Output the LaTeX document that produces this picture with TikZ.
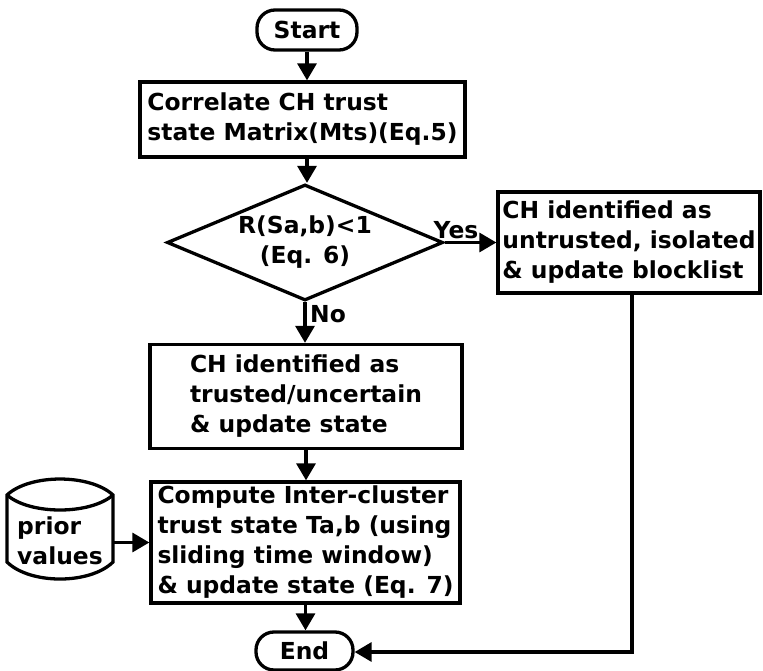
\documentclass[tikz,border=0pt]{standalone}
\usepackage{fontspec}
\setmainfont{DejaVu Sans}
\usetikzlibrary{shapes.geometric,arrows.meta}

\begin{document}
\begin{tikzpicture}[x=1pt,y=-1pt,
  every node/.style={font=\fontsize{23.4}{30}\selectfont\bfseries},
  outline/.style={line width=3.3pt},
  flow/.style={outline, -{Triangle[length=17pt,width=19pt]}},
  proc/.style={draw, outline, rectangle, align=left, inner sep=0pt},
  term/.style={draw, outline, rectangle, rounded corners=18pt, inner sep=0pt},
  decision/.style={draw, outline, diamond, aspect=2.4, inner sep=0pt, align=center},
]
\useasboundingbox (0,0) rectangle (763,671);

% terminals
\node[term, minimum width=100pt, minimum height=40pt] (start) at (307,30) {Start};
\node[term, minimum width=97pt, minimum height=38pt] (end) at (304.5,651) {End};

% process steps
\node[proc, minimum width=325pt, minimum height=75pt] (corr) at (302.5,119.5)
  {Correlate CH trust\\state Matrix(Mts)(Eq.5)};
\node[decision, minimum width=276pt, minimum height=116pt] (dia) at (305,242.5)
  {R(Sa,b)<1\\(Eq. 6)};
\node[proc, minimum width=262pt, minimum height=101pt] (untr) at (629,242.5)
  {CH identified as\\untrusted, isolated\\\& update blocklist};
\node[proc, minimum width=312pt, minimum height=104pt] (trust) at (306,396.5)
  {CH identified as\\trusted/uncertain\\\& update state};
\node[proc, minimum width=309pt, minimum height=121pt] (comp) at (305.5,542.5)
  {Compute Inter-cluster\\trust state Ta,b (using\\sliding time window)\\\& update state (Eq. 7)};

% stored data cylinder
\draw[outline] (7,495) .. controls (30,473.7) and (90,473.7) .. (113,495)
  -- (113,562) .. controls (90,584.7) and (30,584.7) .. (7,562) -- cycle;
\draw[outline] (7,495) .. controls (30,515) and (90,515) .. (113,495);
\node[align=left, inner sep=0pt, minimum width=106pt] (prior) at (60,541) {prior\\values};

% connectors
\coordinate (turn) at (632,652);
\draw[flow] (start.south) -- (start.south |- corr.north);
\draw[flow] (corr.south -| start) -- (dia.north -| start);
\draw[flow] (dia.east) -- (untr.west |- dia.east);
\draw[flow] (dia.south) -- (dia.south |- trust.north);
\draw[flow] (trust.south) -- (trust.south |- comp.north);
\draw[flow] (comp.south) -- (comp.south |- end.north);
\draw[flow] (prior.east |- comp.west) -- (comp.west);
\draw[flow] (untr.south -| turn) -- (turn) -- (turn -| end.east);

% branch labels
\node[inner sep=0pt] (yes) at (456,230) {Yes};
\node[inner sep=0pt] (no) at (328,314) {No};
\end{tikzpicture}
\end{document}
